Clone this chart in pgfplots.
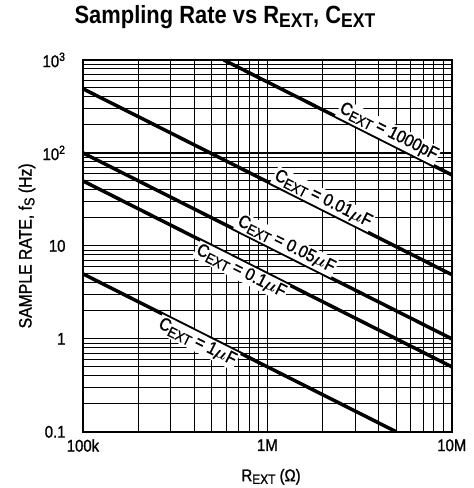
\documentclass[border=0pt]{standalone}
\usepackage{amsmath}
\usepackage{fontspec}
\setmainfont[FakeStretch=0.88]{Liberation Sans}
\newfontfamily\medfont[FakeStretch=0.88,FakeBold=1.2]{Liberation Sans}
\usepackage{pgfplots}
\pgfplotsset{compat=1.18}
\newcommand\sub[1]{\raisebox{-0.3ex}{\scalebox{0.8}{#1}}}
\begin{document}
\begin{tikzpicture}
\begin{axis}[
  name=ax,
  scale only axis, width=369bp, height=372bp,
  xmode=log, ymode=log,
  xmin=1e5, xmax=1e7, ymin=0.1, ymax=1000,
  xtick={1e5,1e6,1e7}, xticklabels={100k,1M,10M},
  ytick={0.1,1,10,100,1000},
  yticklabels={0.1,1,10,10\textsuperscript{2},10\textsuperscript{3}},
  /pgf/number format/assume math mode=true,
  grid=both,
  major grid style={black, line width=1.2bp},
  minor grid style={black, line width=1bp},
  axis line style={line width=1.6bp},
  major tick length=0pt, minor tick length=0pt,
  tick label style={font=\medfont\fontsize{17}{19}\selectfont},
  xticklabel style={yshift=-4bp},
  yticklabel style={xshift=-14bp},
  title={\bfseries Sampling Rate vs R\sub{EXT}, C\sub{EXT}},
  title style={font=\fontsize{25}{29}\selectfont, at={(axis description cs:0.385,1)}, anchor=south, yshift=22bp},
  xlabel={R\sub{EXT} (Ω)},
  xlabel style={font=\medfont\fontsize{17}{19}\selectfont, at={(axis description cs:0.51,-0.121)}, anchor=center},
  ylabel={SAMPLE RATE, f\sub{S} (Hz)},
  ylabel style={font=\medfont\fontsize{18}{20}\selectfont, at={(axis description cs:-0.152,0.5)}, anchor=center},
  clip=true,
]
\addplot[black, line width=3.5bp] coordinates {(5.8e5,1000) (1e7,58)};
\addplot[black, line width=3.5bp] coordinates {(1e5,490) (1e7,4.9)};
\addplot[black, line width=3.5bp] coordinates {(1e5,100) (1e7,1)};
\addplot[black, line width=3.5bp] coordinates {(1e5,50) (1e7,0.5)};
\addplot[black, line width=3.5bp] coordinates {(1e5,5) (5e6,0.1)};
\tikzset{lbl/.style={font=\medfont\fontsize{18}{20}\selectfont, fill=white, inner sep=1.5bp, rotate=-26.75}}
\node[lbl, anchor=south] at (axis cs:4.3e6,134.9) {C\sub{EXT} = 1000pF};
\node[lbl, anchor=south] at (axis cs:1.9e6,25.8) {C\sub{EXT} = 0.01$\boldsymbol{\mu}$F};
\node[lbl, anchor=south] at (axis cs:1.2e6,8.33) {C\sub{EXT} = 0.05$\boldsymbol{\mu}$F};
\node[lbl, anchor=north] at (axis cs:7.6e5,6.58) {C\sub{EXT} = 0.1$\boldsymbol{\mu}$F};
\node[lbl, anchor=north] at (axis cs:4.4e5,1.136) {C\sub{EXT} = 1$\boldsymbol{\mu}$F};
\end{axis}
\path[use as bounding box] ([xshift=-83bp,yshift=-56bp]ax.south west) rectangle ([xshift=22bp,yshift=60bp]ax.north east);
\end{tikzpicture}
\end{document}
